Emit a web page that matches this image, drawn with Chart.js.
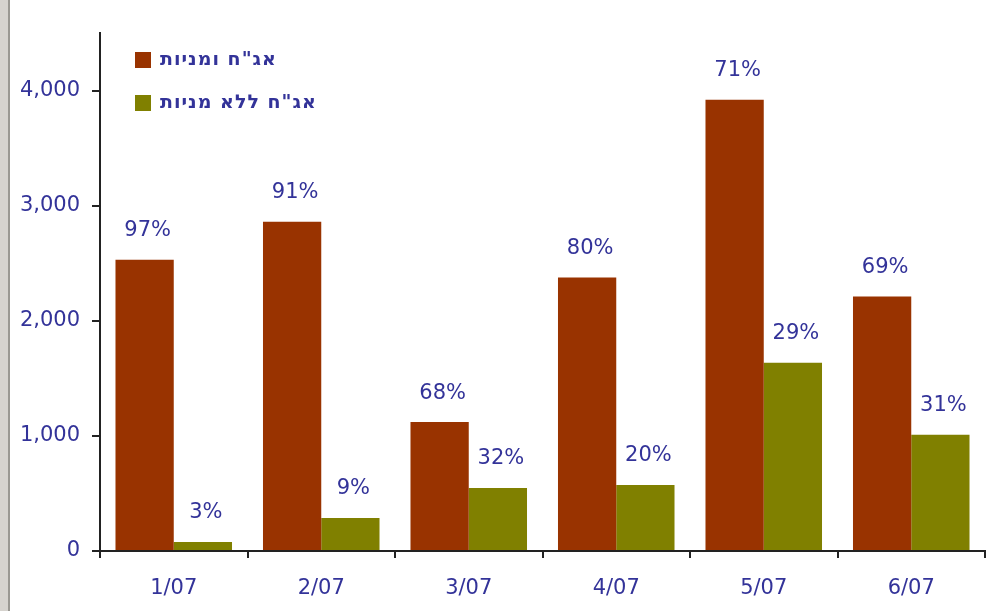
<!DOCTYPE html>
<html>
<head>
<meta charset="utf-8">
<script src="https://cdn.jsdelivr.net/npm/chart.js@4"></script>
<style>
  html, body { margin: 0; padding: 0; background: #fff; }
  #wrap { position: relative; width: 992px; height: 611px; overflow: hidden; background: #fff; }
  #frame { position: absolute; left: 0; top: 0; width: 8px; height: 611px; background: #d6d3ce; border-right: 2px solid #9a9892; }
  canvas { position: absolute; left: 0; top: 0; }
</style>
</head>
<body>
<div id="wrap">
  <canvas id="c" width="992" height="611"></canvas>
  <div id="frame"></div>
</div>
<script>
const categories = ['1/07', '2/07', '3/07', '4/07', '5/07', '6/07'];
const seriesNames = ['אג"ח ומניות', 'אג"ח ללא מניות'];
const withStocks = [2530, 2860, 1120, 2375, 3920, 2210];
const withoutStocks = [78, 287, 548, 574, 1635, 1009];
const withStocksPct = ['97%', '91%', '68%', '80%', '71%', '69%'];
const withoutStocksPct = ['3%', '9%', '32%', '20%', '29%', '31%'];
const yTickValues = [0, 1000, 2000, 3000, 4000];

const TEXT = '#333399';
const FONT = 'DejaVu Sans';

const pctLabels = {
  id: 'pctLabels',
  afterDatasetsDraw(chart) {
    const ctx = chart.ctx;
    ctx.save();
    ctx.fillStyle = TEXT;
    ctx.font = '21px "' + FONT + '"';
    ctx.textAlign = 'center';
    ctx.textBaseline = 'middle';
    chart.data.datasets.forEach((ds, i) => {
      const meta = chart.getDatasetMeta(i);
      meta.data.forEach((el, j) => {
        ctx.fillText(ds.pct[j], el.x + 3, el.y - 29);
      });
    });
    ctx.restore();
  }
};

const insideLegend = {
  id: 'insideLegend',
  afterDraw(chart) {
    const ctx = chart.ctx;
    const a = chart.chartArea;
    ctx.save();
    ctx.font = 'bold 19px "' + FONT + '"';
    if ('letterSpacing' in ctx) ctx.letterSpacing = '1px';
    ctx.textBaseline = 'middle';
    ctx.textAlign = 'left';
    chart.data.datasets.forEach((ds, i) => {
      const cy = a.top + 27 + i * 43;
      ctx.fillStyle = ds.backgroundColor;
      ctx.fillRect(a.left + 35, cy - 8, 16, 16);
      ctx.fillStyle = TEXT;
      ctx.fillText(ds.label, a.left + 60, cy);
    });
    ctx.restore();
  }
};

new Chart(document.getElementById('c'), {
  type: 'bar',
  data: {
    labels: categories,
    datasets: [
      { label: seriesNames[0], data: withStocks, pct: withStocksPct, backgroundColor: '#993300',
        categoryPercentage: 0.79, barPercentage: 1.0 },
      { label: seriesNames[1], data: withoutStocks, pct: withoutStocksPct, backgroundColor: '#808000',
        categoryPercentage: 0.79, barPercentage: 1.0 }
    ]
  },
  options: {
    responsive: false,
    animation: false,
    layout: { padding: { left: 0, right: 7, top: 33, bottom: 0 } },
    plugins: { legend: { display: false }, tooltip: { enabled: false } },
    scales: {
      x: {
        grid: { drawOnChartArea: false, drawTicks: true, tickLength: 7, tickColor: '#222', lineWidth: 2, offset: true },
        border: { display: true, color: '#222', width: 2 },
        ticks: { color: TEXT, font: { family: FONT, size: 21 }, padding: 18, maxRotation: 0 },
        afterFit(axis) { axis.height = 60; }
      },
      y: {
        min: 0, max: 4500,
        grid: { drawOnChartArea: false, drawTicks: true, tickLength: 8, tickColor: '#222', lineWidth: 2 },
        border: { display: true, color: '#222', width: 2 },
        ticks: { color: TEXT, font: { family: FONT, size: 21 }, padding: 12, stepSize: 1000 },
        afterBuildTicks(axis) { axis.ticks = yTickValues.map(v => ({ value: v })); },
        afterFit(axis) { axis.width = 100; }
      }
    }
  },
  plugins: [pctLabels, insideLegend]
});
</script>
</body>
</html>
